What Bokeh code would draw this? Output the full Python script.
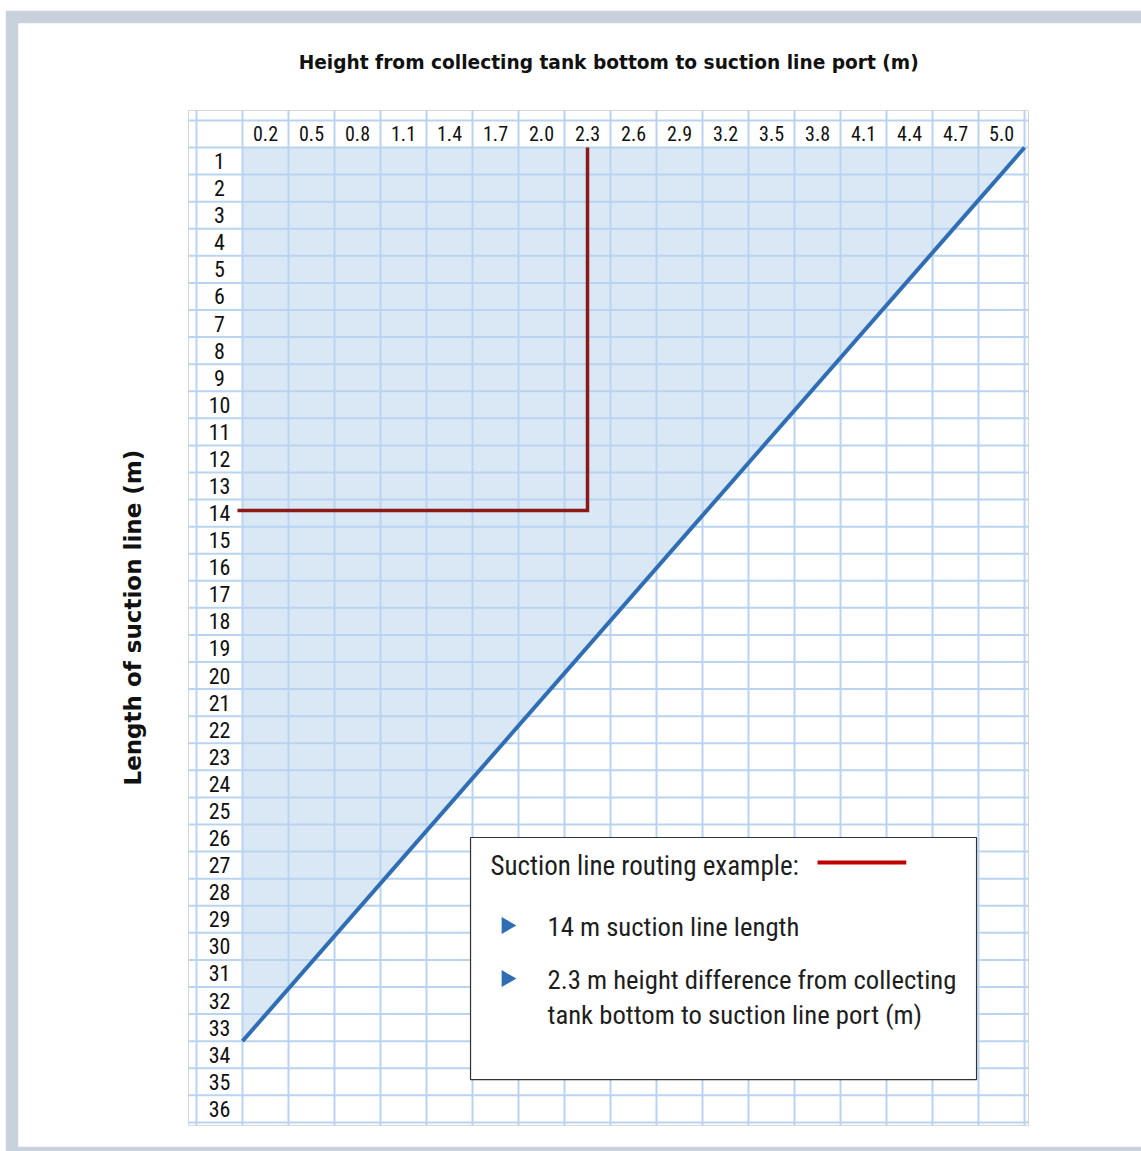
import math
from bokeh.plotting import figure
from bokeh.models import Range1d, Label
from bokeh.core.properties import value
from bokeh.embed import file_html
from bokeh.resources import INLINE

# ---- data ----
heights = ["0.2", "0.5", "0.8", "1.1", "1.4", "1.7", "2.0", "2.3", "2.6",
           "2.9", "3.2", "3.5", "3.8", "4.1", "4.4", "4.7", "5.0"]
lengths = list(range(1, 37))
# permitted-area boundary: from (column edge 0, row 33) to (column edge 17, row 0)
limit_col = [0, 17]
limit_row = [33, 0]
example_length = 14
example_height = "2.3"

title_text = "Height from collecting tank bottom to suction line port (m)"
ytitle_text = "Length of suction line (m)"
legend_head = "Suction line routing example:"
legend_items = ["14 m suction line length",
                "2.3 m height difference from collecting",
                "tank bottom to suction line port (m)"]

GRID = "#b9d3f0"
FILL = "#dae8f6"
BLUE = "#2f6db5"
ROUTE = "#8b1a16"
SWATCH = "#c00000"
FRAME = "#c9d1dd"
COND = value("Roboto Condensed")

ncol = len(heights)
nrow = len(lengths)

# table extents in grid units (column width / row height)
t_left, t_right = -1.174, ncol + 0.087
t_top, t_bottom = -1.366, nrow + 0.11

p = figure(width=1136, height=1141, output_backend="svg", toolbar_location=None,
           x_range=Range1d(-4.8696, 19.543), y_range=Range1d(36.89, -4.579),
           x_axis_location=None, y_axis_location=None,
           min_border_left=13, min_border_top=13, min_border_right=0, min_border_bottom=5,
           border_fill_color=FRAME, background_fill_color="white",
           outline_line_color=None)
p.margin = (10, 0, 0, 5)
p.title.visible = False
p.grid.visible = False

# table background and border
p.quad(left=[t_left], right=[t_right], top=[t_top], bottom=[t_bottom],
       fill_color="white", line_color="#d6d6d6", line_width=1)

# permitted area fill
p.patch(x=[limit_col[0], limit_col[1], limit_col[0]],
        y=[limit_row[1], limit_row[1], limit_row[0]],
        fill_color=FILL, line_color=None)

# grid lines
vx = [-1] + list(range(0, ncol + 1))
p.segment(x0=vx, x1=vx, y0=[t_top] * len(vx), y1=[t_bottom] * len(vx),
          line_color=GRID, line_width=2)
hy = [-1] + list(range(0, nrow + 1))
p.segment(x0=[t_left] * len(hy), x1=[t_right] * len(hy), y0=hy, y1=hy,
          line_color=GRID, line_width=2)

# header labels
p.text(x=[i + 0.5 for i in range(ncol)], y=[-0.5] * ncol, text=heights,
       text_align="center", text_baseline="middle", text_font=COND,
       text_font_size="20px", text_color="#111111")
p.text(x=[-0.5] * nrow, y=[j - 0.5 for j in lengths], text=[str(j) for j in lengths],
       text_align="center", text_baseline="middle", text_font=COND,
       text_font_size="22px", text_color="#111111")

# boundary line
p.line(x=limit_col, y=limit_row, line_color=BLUE, line_width=4)

# example route
ec = heights.index(example_height) + 0.5
er = example_length - 0.6
p.line(x=[-0.11, ec, ec], y=[er, er, 0], line_color=ROUTE, line_width=3.5,
       line_join="miter")

# legend box
p.quad(left=[4.957], right=[15.957], top=[25.48], bottom=[34.42],
       fill_color="white", line_color="#333333", line_width=1.2)
p.text(x=[5.39], y=[26.55], text=[legend_head], text_align="left",
       text_baseline="middle", text_font=COND, text_font_size="27px",
       text_color="#1e1e1e")
p.segment(x0=[12.5], x1=[14.43], y0=[26.4], y1=[26.4], line_color=SWATCH,
          line_width=4)
p.scatter(x=[5.74, 5.74], y=[28.73, 30.69], marker="triangle", size=17,
          angle=-math.pi / 2, fill_color=BLUE, line_color=None)
p.text(x=[6.63, 6.63, 6.63], y=[28.77, 30.76, 32.02], text=legend_items,
       text_align="left", text_baseline="middle", text_font=COND,
       text_font_size="26.7px", text_color="#1e1e1e")

# titles
p.add_layout(Label(x=7.96, y=-3.14, text=title_text, text_align="center",
                   text_baseline="middle", text_font="DejaVu Sans",
                   text_font_style="bold", text_font_size="18.6px",
                   text_color="#111111"))
p.add_layout(Label(x=-2.37, y=17.36, text=ytitle_text, angle=math.pi / 2,
                   text_align="center", text_baseline="middle",
                   text_font="DejaVu Sans", text_font_style="bold",
                   text_font_size="23px", text_color="#111111"))

open("out.html", "w").write(file_html(p, INLINE))
